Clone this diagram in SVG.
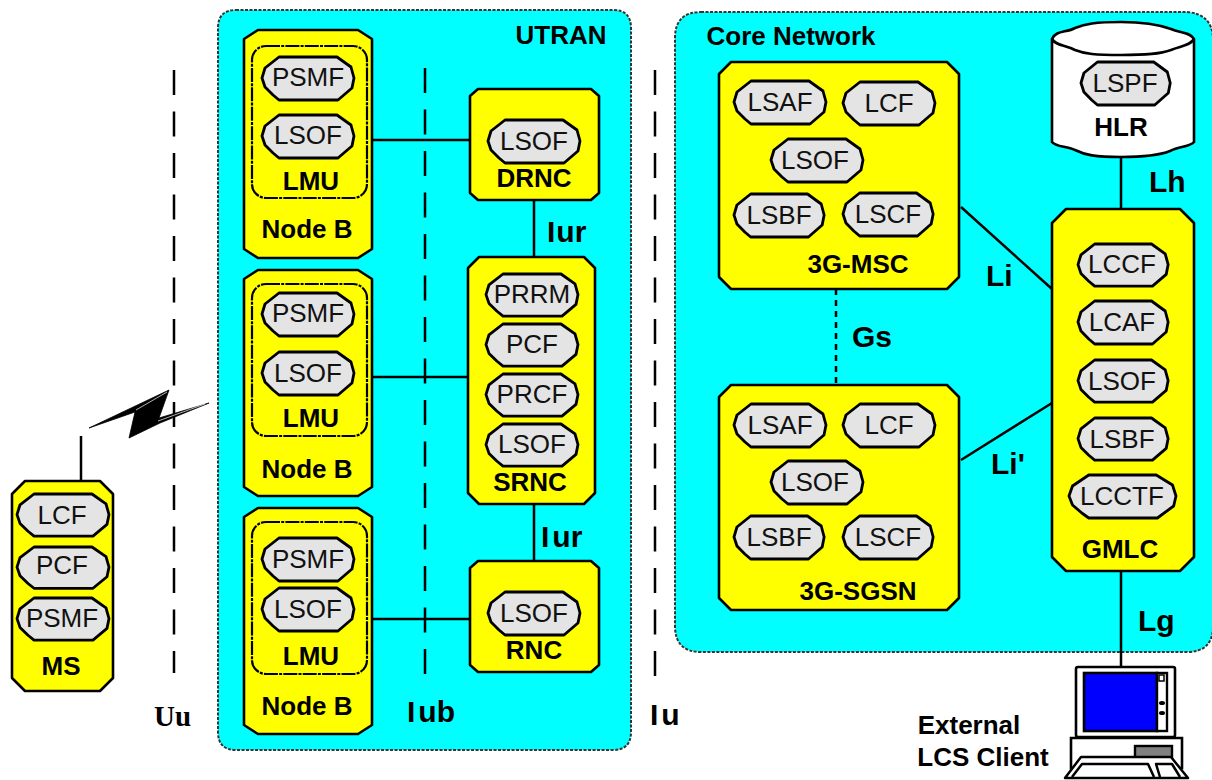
<svg xmlns="http://www.w3.org/2000/svg" width="1212" height="780" viewBox="0 0 1212 780">
<style>
text{font-family:"Liberation Sans",Arial,sans-serif;fill:#000}
.t{font-size:26px;text-anchor:middle;fill:#111}
.b{font-size:26px;font-weight:bold;text-anchor:middle}
.k{font-size:30px;font-weight:bold}
.s{font-family:"Liberation Serif","Times New Roman",serif;font-size:29px;font-weight:bold}
.reg{fill:#0ff;stroke:#333;stroke-width:2;stroke-dasharray:3 1.5}
.box{fill:#ff0;stroke:#000;stroke-width:2.6;stroke-linejoin:round}
.lmu{fill:none;stroke:#000;stroke-width:2.2;stroke-dasharray:14 1.2 3 1.2}
.pl{fill:#e4e4e4;stroke:#000;stroke-width:2.8;stroke-linejoin:round;vector-effect:non-scaling-stroke}
.c{fill:none;stroke:#000;stroke-width:2.5}
.d{fill:none;stroke:#000;stroke-width:2.5;stroke-dasharray:25 16.5}
.g{fill:none;stroke:#000;stroke-width:2.5;stroke-dasharray:6 5}
.l{fill:#fff;stroke:#000;stroke-width:2.5;stroke-linejoin:round}
.n{fill:none;stroke:#000;stroke-width:2.5;stroke-linejoin:round}
</style>
<defs>
<path id="p" class="pl" d="M0,21L3,11L17,0H75L89,10L92,21L90,31L76,43H17L11,38L3,30Z"/>
</defs>
<g id="utran">
<path class="reg" d="M236,10H613Q631,10 631,28V732Q631,750 613,750H236Q218,750 218,732V28Q218,10 236,10Z"/>
<text class="b" x="561" y="44">UTRAN</text>
</g>
<g id="core-network">
<path class="reg" d="M701,12H1187Q1212,14 1213,38V628Q1212,652 1187,652H701Q675,652 675,626V38Q675,12 701,12Z"/>
<text class="b" x="791" y="45">Core Network</text>
</g>
<g id="connectors">
<path class="d" d="M174,70V673"/>
<path class="d" d="M425,68V675"/>
<path class="d" d="M655,70V677"/>
<path class="c" d="M81,436V481"/>
<path class="c" d="M372,140H470M372,377H468M372,619H470M534,200V257M534,504V561"/>
<path class="c" d="M961,207L1052,289M961,460L1052,403M1121,157V209M1121,571V668"/>
<path class="g" d="M836,289V385"/>
<polygon points="89,428 169,390 159,418 209,403 160,423 129,438 135,412" fill="#000" stroke="#000" stroke-width="0.8"/>
<path d="M136,410L167,392M158,421L205,404" stroke="#fff" stroke-width="0.7" fill="none"/>
</g>
<g id="ms">
<path class="box" d="M25,481H100L113,494V678L100,691H25L12,678V494Z"/>
<use href="#p" transform="translate(17,494) scale(1,.98)"/><text class="t" x="62" y="524">LCF</text>
<use href="#p" transform="translate(17,547) scale(1,.96)"/><text class="t" x="62" y="574">PCF</text>
<use href="#p" transform="translate(17,598) scale(1,.98)"/><text class="t" x="62" y="627">PSMF</text>
<text class="b" x="61" y="675">MS</text>
</g>
<g id="node-b-1">
<path class="box" d="M258,30H358L372,39V249L358,258H258L244,249V39Z"/>
<rect class="lmu" x="252" y="46" width="115" height="152" rx="14"/>
<use href="#p" transform="translate(262,57)"/><text class="t" x="308" y="86">PSMF</text>
<use href="#p" transform="translate(262,115)"/><text class="t" x="308" y="144">LSOF</text>
<text class="b" x="311" y="190">LMU</text>
<text class="b" x="307" y="238">Node B</text>
</g>
<g id="node-b-2">
<path class="box" d="M258,270H358L372,279V487L358,496H258L244,487V279Z"/>
<rect class="lmu" x="252" y="284" width="115" height="152" rx="14"/>
<use href="#p" transform="translate(262,293)"/><text class="t" x="308" y="322">PSMF</text>
<use href="#p" transform="translate(262,352)"/><text class="t" x="308" y="382">LSOF</text>
<text class="b" x="311" y="427">LMU</text>
<text class="b" x="307" y="478">Node B</text>
</g>
<g id="node-b-3">
<path class="box" d="M258,508H358L372,517V725L358,734H258L244,725V517Z"/>
<rect class="lmu" x="252" y="522" width="115" height="152" rx="14"/>
<use href="#p" transform="translate(262,538)"/><text class="t" x="308" y="568">PSMF</text>
<use href="#p" transform="translate(262,588)"/><text class="t" x="308" y="618">LSOF</text>
<text class="b" x="311" y="665">LMU</text>
<text class="b" x="307" y="715">Node B</text>
</g>
<g id="drnc">
<path class="box" d="M478,89H591L599,96V193L591,200H478L470,193V96Z"/>
<use href="#p" transform="translate(488,120)"/><text class="t" x="534" y="150">LSOF</text>
<text class="b" x="534" y="187">DRNC</text>
</g>
<g id="srnc">
<path class="box" d="M479,257H584L595,268V493L584,504H479L468,493V268Z"/>
<use href="#p" transform="translate(486,274) scale(1,.98)"/><text class="t" x="532" y="303">PRRM</text>
<use href="#p" transform="translate(486,324) scale(1,.98)"/><text class="t" x="532" y="353">PCF</text>
<use href="#p" transform="translate(486,374) scale(1,.98)"/><text class="t" x="532" y="403">PRCF</text>
<use href="#p" transform="translate(486,424) scale(1,.98)"/><text class="t" x="532" y="453">LSOF</text>
<text class="b" x="530" y="491">SRNC</text>
</g>
<g id="rnc">
<path class="box" d="M478,561H591L599,568V665L591,672H478L470,665V568Z"/>
<use href="#p" transform="translate(488,592)"/><text class="t" x="534" y="622">LSOF</text>
<text class="b" x="534" y="659">RNC</text>
</g>
<g id="msc">
<path class="box" d="M731,62H947L959,74V277L947,289H731L719,277V74Z"/>
<use href="#p" transform="translate(734,81)"/><text class="t" x="780" y="111">LSAF</text>
<use href="#p" transform="translate(843,82)"/><text class="t" x="889" y="112">LCF</text>
<use href="#p" transform="translate(771,139)"/><text class="t" x="815" y="169">LSOF</text>
<use href="#p" transform="translate(734,194) scale(.98,1)"/><text class="t" x="779" y="224">LSBF</text>
<use href="#p" transform="translate(843,193) scale(.98,1)"/><text class="t" x="888" y="223">LSCF</text>
<text class="b" x="858" y="273">3G-MSC</text>
</g>
<g id="sgsn">
<path class="box" d="M731,385H947L959,397V598L947,610H731L719,598V397Z"/>
<use href="#p" transform="translate(734,404)"/><text class="t" x="780" y="434">LSAF</text>
<use href="#p" transform="translate(843,404)"/><text class="t" x="889" y="434">LCF</text>
<use href="#p" transform="translate(771,461)"/><text class="t" x="815" y="491">LSOF</text>
<use href="#p" transform="translate(734,516) scale(.98,1)"/><text class="t" x="779" y="546">LSBF</text>
<use href="#p" transform="translate(843,516) scale(.98,1)"/><text class="t" x="888" y="546">LSCF</text>
<text class="b" x="858" y="600">3G-SGSN</text>
</g>
<g id="gmlc">
<path class="box" d="M1066,209H1180L1194,223V557L1180,571H1066L1052,557V223Z"/>
<use href="#p" transform="translate(1078,244) scale(.98,.98)"/><text class="t" x="1122" y="273">LCCF</text>
<use href="#p" transform="translate(1078,301) scale(.98,1)"/><text class="t" x="1122" y="331">LCAF</text>
<use href="#p" transform="translate(1078,360) scale(.98,.98)"/><text class="t" x="1122" y="390">LSOF</text>
<use href="#p" transform="translate(1078,418) scale(.98,.98)"/><text class="t" x="1122" y="448">LSBF</text>
<use href="#p" transform="translate(1069,475) scale(1.163,1)"/><text class="t" x="1122" y="505">LCCTF</text>
<text class="b" x="1120" y="558">GMLC</text>
</g>
<g id="hlr">
<path d="M1052,39C1056,30 1066,33 1075,28C1085,24 1095,22 1121,22C1147,22 1160,25 1171,29C1180,33 1190,32 1194,39V142C1190,147 1180,146 1170,151C1160,155 1147,157 1121,157C1095,157 1085,155 1075,150C1066,146 1056,147 1052,142Z" fill="#fff" stroke="#000" stroke-width="2.6"/>
<path d="M1052,39C1056,46 1066,45 1075,50C1085,54 1095,55 1121,55C1147,55 1160,54 1171,50C1180,46 1190,46 1194,39" fill="none" stroke="#000" stroke-width="2.6"/>
<use href="#p" transform="translate(1081,62) scale(.97,1)"/><text class="t" x="1125" y="92">LSPF</text>
<text class="b" x="1121" y="136">HLR</text>
</g>
<g id="lcs-client">
<rect x="1076" y="667" width="99" height="70" rx="2" fill="#fff" stroke="#000" stroke-width="2.6"/>
<rect x="1084" y="673" width="73" height="58" fill="#00f" stroke="#000" stroke-width="2.6"/>
<rect x="1157" y="673" width="10" height="58" fill="#fff" stroke="#000" stroke-width="2.4"/>
<rect x="1159" y="675" width="5" height="6" fill="#fff" stroke="#000" stroke-width="1.5"/>
<ellipse cx="1162" cy="703" rx="3" ry="2" fill="#000"/>
<ellipse cx="1162" cy="713" rx="3" ry="2" fill="#000"/>
<path d="M1071,738H1182V768H1071Z" fill="#fff" stroke="#000" stroke-width="2.6"/>
<rect x="1135" y="746" width="37" height="12" fill="#808080" stroke="#000" stroke-width="2.4"/>
<path class="l" d="M1081,757H1171L1188,778H1065Z"/>
<path class="n" d="M1072,777L1082,764H1148L1154,777"/>
<path class="n" d="M1160,777L1156,764H1172L1180,777"/>
</g>
<g id="labels">
<text class="b" x="969" y="734">External</text>
<text class="b" x="983" y="766">LCS Client</text>
<text class="k" x="547" y="242">I<tspan dx="1">ur</tspan></text>
<text class="k" x="541" y="547">I<tspan dx="3">ur</tspan></text>
<text class="k" x="1149" y="192">Lh</text>
<text class="k" x="986" y="286">Li</text>
<text class="k" x="852" y="347">Gs</text>
<text class="k" x="991" y="474">Li'</text>
<text class="k" x="1138" y="631">Lg</text>
<text class="s" x="154" y="726">Uu</text>
<text class="k" x="407" y="722">I<tspan dx="3">ub</tspan></text>
<text class="k" x="650" y="725">I<tspan dx="3">u</tspan></text>
</g>
</svg>
